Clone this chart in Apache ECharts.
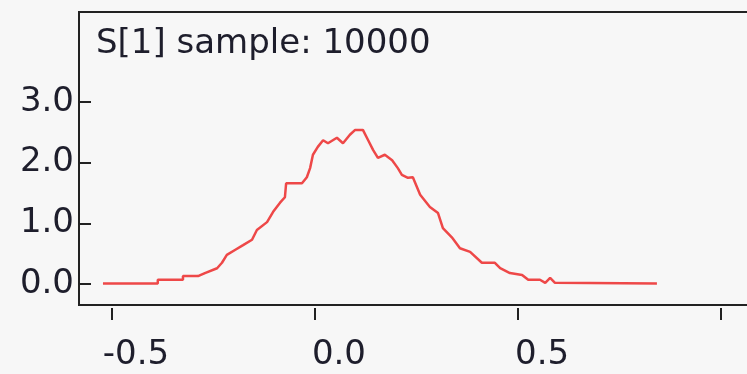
<!DOCTYPE html>
<html>
<head>
<meta charset="utf-8">
<script src="https://cdn.jsdelivr.net/npm/echarts@6/dist/echarts.min.js"></script>
<style>
  html, body { margin: 0; padding: 0; background: #f7f7f7; overflow: hidden; }
  #chart { width: 770px; height: 374px; }
</style>
</head>
<body>
<div id="chart"></div>
<script>
// Kernel density of the sampled S[1] values
const titleText = 'S[1] sample: 10000';
const sampleX = [-0.522, -0.387, -0.387, -0.325, -0.325, -0.288, -0.271, -0.241, -0.229, -0.217,
  -0.197, -0.177, -0.155, -0.143, -0.118, -0.103, -0.086, -0.074, -0.071, -0.032,
  -0.020, -0.012, -0.005, 0.007, 0.020, 0.032, 0.054, 0.069, 0.086, 0.099,
  0.118, 0.131, 0.143, 0.155, 0.172, 0.190, 0.204, 0.214, 0.229, 0.241,
  0.259, 0.283, 0.303, 0.315, 0.337, 0.357, 0.382, 0.411, 0.443, 0.456,
  0.480, 0.510, 0.525, 0.554, 0.567, 0.579, 0.591, 0.842];
const density = [0.01, 0.01, 0.07, 0.07, 0.13, 0.13, 0.18, 0.26, 0.35, 0.48,
  0.56, 0.64, 0.73, 0.89, 1.02, 1.19, 1.34, 1.43, 1.66, 1.66,
  1.76, 1.91, 2.13, 2.26, 2.37, 2.32, 2.41, 2.32, 2.46, 2.54,
  2.54, 2.37, 2.21, 2.08, 2.13, 2.04, 1.91, 1.80, 1.75, 1.76,
  1.47, 1.27, 1.17, 0.92, 0.77, 0.59, 0.53, 0.35, 0.35, 0.26,
  0.18, 0.15, 0.07, 0.07, 0.02, 0.10, 0.02, 0.01];
const xTickValues = [-0.5, 0.0, 0.5, 1.0];
const xLabelValues = [-0.5, 0.0, 0.5];
const yTickValues = [0, 1, 2, 3];

const points = sampleX.map((x, i) => [x, density[i]]);
const textColor = '#1e1e2c';
const frameColor = '#222222';
const fontFamily = '"DejaVu Sans", sans-serif';

const chart = echarts.init(document.getElementById('chart'), null, { renderer: 'canvas' });
chart.setOption({
  animation: false,
  backgroundColor: '#f7f7f7',
  title: {
    text: titleText,
    left: 96,
    top: 27,
    padding: 0,
    textStyle: { fontFamily, fontSize: 34, fontWeight: 'normal', color: textColor }
  },
  grid: {
    left: 79, top: 12, right: 3, bottom: 69,
    show: true,
    borderColor: frameColor,
    borderWidth: 2,
    backgroundColor: 'transparent'
  },
  xAxis: {
    type: 'value',
    position: 'bottom',
    min: -0.581,
    max: 1.113,
    offset: 3,
    splitLine: { show: false },
    axisLine: { show: false, onZero: false },
    axisTick: {
      show: true, inside: false, length: 12,
      customValues: xTickValues,
      lineStyle: { color: frameColor, width: 2 }
    },
    axisLabel: {
      show: true,
      customValues: xLabelValues,
      formatter: v => v.toFixed(1),
      align: 'center',
      padding: [0, 0, 0, 48],
      margin: 30,
      fontFamily, fontSize: 34, color: textColor
    }
  },
  yAxis: {
    type: 'value',
    position: 'left',
    min: -0.346,
    max: 4.483,
    // axis shifted into the frame so its ticks run from the frame edge inward
    offset: -12,
    splitLine: { show: false },
    axisLine: { show: false, onZero: false },
    axisTick: {
      show: true, inside: false, length: 12,
      customValues: yTickValues,
      lineStyle: { color: frameColor, width: 2 }
    },
    axisLabel: {
      show: true,
      customValues: yTickValues,
      formatter: v => v.toFixed(1),
      margin: 17,
      fontFamily, fontSize: 34, color: textColor
    }
  },
  series: [{
    type: 'line',
    data: points,
    showSymbol: false,
    smooth: false,
    lineStyle: { color: '#ee4848', width: 2.5 },
    silent: true
  }]
});
</script>
</body>
</html>
